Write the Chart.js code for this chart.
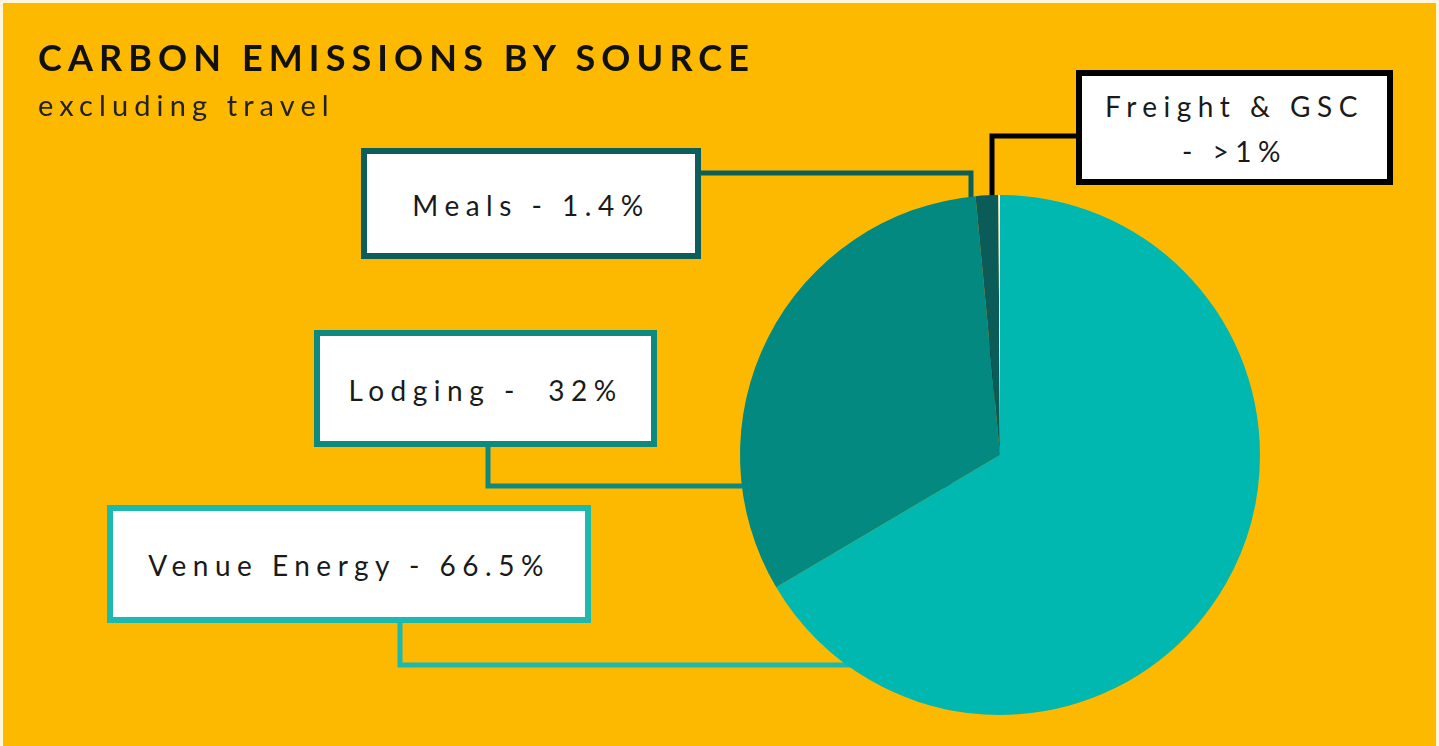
<!DOCTYPE html>
<html>
<head>
<meta charset="utf-8">
<script src="https://cdn.jsdelivr.net/npm/chart.js@4/dist/chart.umd.min.js"></script>
<style>
  html, body { margin: 0; padding: 0; width: 1439px; height: 746px; overflow: hidden; background: #fff6dc; }
  #bg { position: absolute; left: 3px; top: 3px; width: 1433px; height: 743px; background: #FDB900; }
  #wrap { position: absolute; left: 0; top: 0; width: 1439px; height: 746px; }
  canvas { position: absolute; left: 0; top: 0; }
  .title { position: absolute; left: 38px; top: 37px; font-family: Lato, sans-serif; font-weight: 700; font-size: 36px; letter-spacing: 6.1px; color: #111; white-space: nowrap; line-height: 40px; }
  .sub { position: absolute; left: 38px; top: 88px; font-family: Lato, sans-serif; font-weight: 400; font-size: 29px; letter-spacing: 6.1px; color: #222; white-space: nowrap; line-height: 34px; }
  .box { position: absolute; box-sizing: border-box; background: #fff; border: 6px solid #000; display: flex; align-items: center; justify-content: center; text-align: center; font-family: Lato, sans-serif; font-size: 28px; letter-spacing: 6.5px; color: #1a1a1a; white-space: pre; line-height: 45px; padding-top: 3px; }
</style>
</head>
<body>
<div id="bg"></div>
<div id="wrap"><canvas id="c" width="1439" height="746"></canvas></div>
<div class="title" id="title"></div>
<div class="sub" id="sub"></div>
<script>
// ---- data ----
const categories = ["Venue Energy", "Lodging", "Meals", "Freight & GSC"];
const values = [66.5, 32, 1.4, 0.1];
const labelTexts = ["Venue Energy - 66.5%", "Lodging -  32%", "Meals - 1.4%", "Freight & GSC\n- >1%"];
const sliceColors = ["#00B8AF", "#03897F", "#0B5C59", "#FFFFFF"];
const boxBorderColors = ["#1BB9AF", "#0E897F", "#0D5E5B", "#000000"];
const titleText = "CARBON EMISSIONS BY SOURCE";
const subtitleText = "excluding travel";

// ---- layout (positions only) ----
const boxes = [
  { x: 107, y: 505, w: 484, h: 118 },
  { x: 314, y: 330, w: 343, h: 117 },
  { x: 361, y: 148, w: 340, h: 111 },
  { x: 1076, y: 70, w: 317, h: 115 }
];
const connectors = [
  { pts: [[400, 622], [400, 665]], end: "h" },
  { pts: [[488, 446], [488, 486]], end: "h" },
  { pts: [[700, 173], [971, 173]], end: "v" },
  { pts: [[1076, 136], [992, 136]], end: "v" }
];

document.getElementById('title').textContent = titleText;
document.getElementById('sub').textContent = subtitleText;
boxes.forEach((b, i) => {
  const d = document.createElement('div');
  d.className = 'box';
  d.style.left = b.x + 'px'; d.style.top = b.y + 'px';
  d.style.width = b.w + 'px'; d.style.height = b.h + 'px';
  d.style.borderColor = boxBorderColors[i];
  d.textContent = labelTexts[i];
  document.body.appendChild(d);
});

const connectorPlugin = {
  id: 'connectors',
  beforeDatasetsDraw(chart) {
    const arc = chart.getDatasetMeta(0).data[0];
    const cx = arc.x, cy = arc.y;
    const ctx = chart.ctx;
    ctx.save();
    ctx.lineWidth = 5;
    ctx.lineCap = 'butt';
    ctx.lineJoin = 'miter';
    connectors.forEach((c, i) => {
      ctx.strokeStyle = boxBorderColors[i];
      ctx.beginPath();
      ctx.moveTo(c.pts[0][0], c.pts[0][1]);
      for (let k = 1; k < c.pts.length; k++) ctx.lineTo(c.pts[k][0], c.pts[k][1]);
      const last = c.pts[c.pts.length - 1];
      if (c.end === 'h') ctx.lineTo(cx, last[1]); else ctx.lineTo(last[0], cy);
      ctx.stroke();
    });
    ctx.restore();
  }
};

new Chart(document.getElementById('c'), {
  type: 'pie',
  data: {
    labels: categories,
    datasets: [{
      data: values,
      backgroundColor: sliceColors,
      borderWidth: 0
    }]
  },
  options: {
    responsive: false,
    animation: false,
    layout: { padding: { left: 740, right: 179, top: 195, bottom: 31 } },
    plugins: { legend: { display: false }, tooltip: { enabled: false } }
  },
  plugins: [connectorPlugin]
});
</script>
</body>
</html>
